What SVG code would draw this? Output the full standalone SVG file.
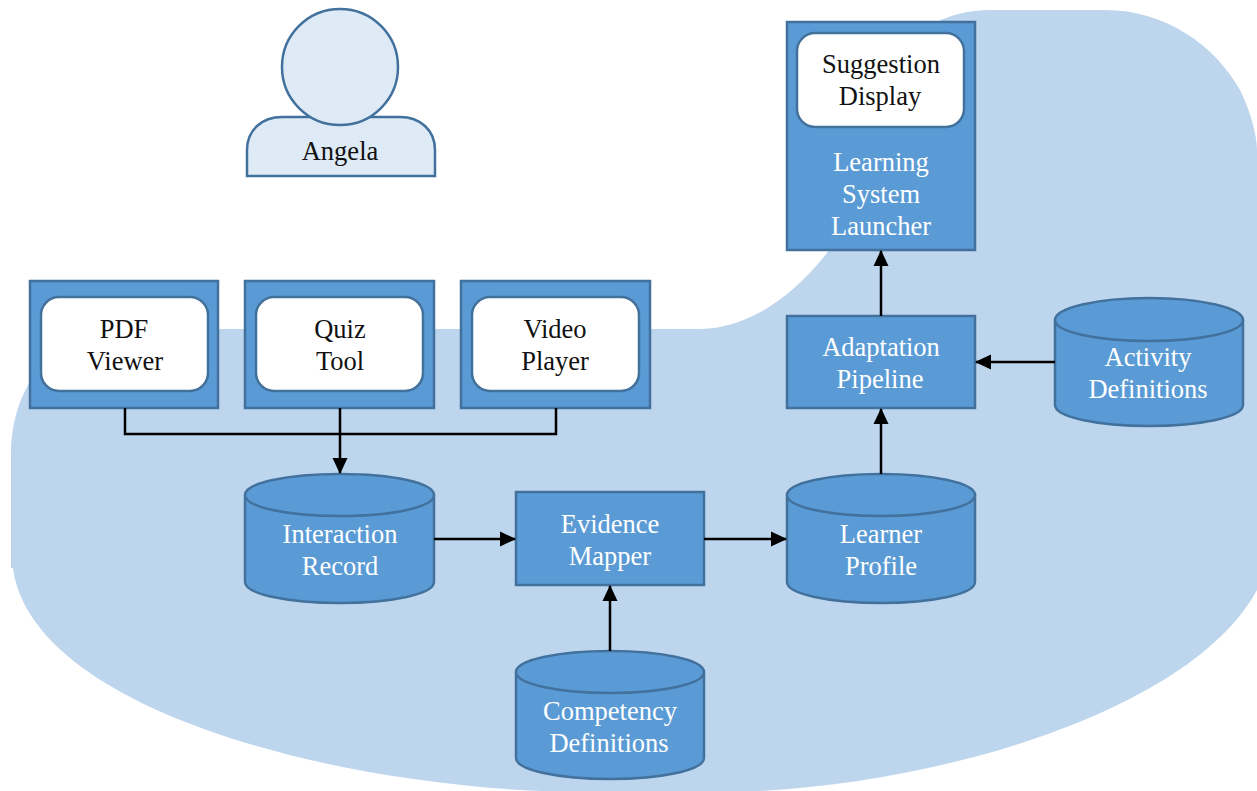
<svg xmlns="http://www.w3.org/2000/svg" width="1257" height="791" viewBox="0 0 1257 791">
<style>
.b{fill:#5b9bd5;stroke:#41719c;stroke-width:2.5}
.w{fill:#fff;stroke:#41719c;stroke-width:2.5}
.p{fill:#deeaf6;stroke:#41719c;stroke-width:2.5}
.c{fill:none;stroke:#000;stroke-width:2.5}
text{font-family:"Liberation Serif","Times New Roman",serif;font-size:26.5px;text-anchor:middle}
.l{fill:#fff}.d{fill:#111}
</style>
<defs>
<marker id="a" markerUnits="userSpaceOnUse" markerWidth="16" markerHeight="16" refX="15" refY="8" orient="auto"><path d="M0 0.5L16 8L0 15.5Z" fill="#000"/></marker>
</defs>
<path id="backdrop" d="M11 568V455C11 385 55 329 125 329H700C745 329 790 300 827 253C860 205 870 120 890 70C905 30 950 10 990 10H1105C1165 10 1215 45 1240 90C1250 110 1257 135 1257 150V590C1195 705 960 780 760 791H540C300 780 30 700 13 568Z" fill="#bdd6ee"/>
<g id="angela">
<path class="p" d="M247 176V150C247 130 262 117 282 117H400C420 117 435 130 435 150V176Z"/>
<circle class="p" cx="340" cy="67" r="58"/>
<text class="d" x="340" y="160">Angela</text>
</g>
<g id="pdf-viewer"><rect class="b" x="30" y="281" width="188" height="127"/><rect class="w" x="41" y="297" width="167" height="94" rx="18"/><text class="d" x="124" y="338">PDF</text><text class="d" x="125" y="370">Viewer</text></g>
<g id="quiz-tool"><rect class="b" x="245" y="281" width="189" height="127"/><rect class="w" x="256" y="297" width="167" height="94" rx="18"/><text class="d" x="340" y="338">Quiz</text><text class="d" x="340" y="370">Tool</text></g>
<g id="video-player"><rect class="b" x="461" y="281" width="189" height="127"/><rect class="w" x="472" y="297" width="167" height="94" rx="18"/><text class="d" x="555" y="338">Video</text><text class="d" x="555" y="370">Player</text></g>
<g id="interaction-record"><path class="b" d="M245 495C245 483 287 474 340 474S434 483 434 495V582C434 594 392 603 340 603S245 594 245 582Z"/><path class="b" d="M245 495C245 507 287 516 340 516S434 507 434 495" fill="none"/><text class="l" x="340" y="543">Interaction</text><text class="l" x="340" y="575">Record</text></g>
<g id="evidence-mapper"><rect class="b" x="516" y="492" width="188" height="93"/><text class="l" x="610" y="533">Evidence</text><text class="l" x="610" y="565">Mapper</text></g>
<g id="learner-profile"><path class="b" d="M787 495C787 483 829 474 881 474S975 483 975 495V582C975 594 933 603 881 603S787 594 787 582Z"/><path class="b" d="M787 495C787 507 829 516 881 516S975 507 975 495" fill="none"/><text class="l" x="881" y="543">Learner</text><text class="l" x="881" y="575">Profile</text></g>
<g id="competency-definitions"><path class="b" d="M516 672C516 660 558 651 610 651S704 660 704 672V758C704 770 662 779 610 779S516 770 516 758Z"/><path class="b" d="M516 672C516 684 558 693 610 693S704 684 704 672" fill="none"/><text class="l" x="610" y="720">Competency</text><text class="l" x="609" y="752">Definitions</text></g>
<g id="adaptation-pipeline"><rect class="b" x="787" y="316" width="188" height="92"/><text class="l" x="881" y="356">Adaptation</text><text class="l" x="880" y="388">Pipeline</text></g>
<g id="activity-definitions"><path class="b" d="M1055 320C1055 308 1097 298 1149 298S1243 308 1243 320V405C1243 417 1201 426 1149 426S1055 417 1055 405Z"/><path class="b" d="M1055 320C1055 332 1097 341 1149 341S1243 332 1243 320" fill="none"/><text class="l" x="1148" y="366">Activity</text><text class="l" x="1148" y="398">Definitions</text></g>
<g id="learning-system-launcher"><rect class="b" x="787" y="22" width="188" height="228"/><rect class="w" x="797" y="33" width="167" height="94" rx="18"/><text class="d" x="881" y="73">Suggestion</text><text class="d" x="880" y="105">Display</text><text class="l" x="881" y="171">Learning</text><text class="l" x="881" y="203">System</text><text class="l" x="881" y="235">Launcher</text></g>
<g id="connectors">
<path class="c" d="M125 408V434H556V408"/>
<path class="c" d="M340 408V473" marker-end="url(#a)"/>
<path class="c" d="M434 539H515" marker-end="url(#a)"/>
<path class="c" d="M704 539H786" marker-end="url(#a)"/>
<path class="c" d="M610 651V586" marker-end="url(#a)"/>
<path class="c" d="M881 474V409" marker-end="url(#a)"/>
<path class="c" d="M881 316V251" marker-end="url(#a)"/>
<path class="c" d="M1055 362H976" marker-end="url(#a)"/>
</g>
</svg>
